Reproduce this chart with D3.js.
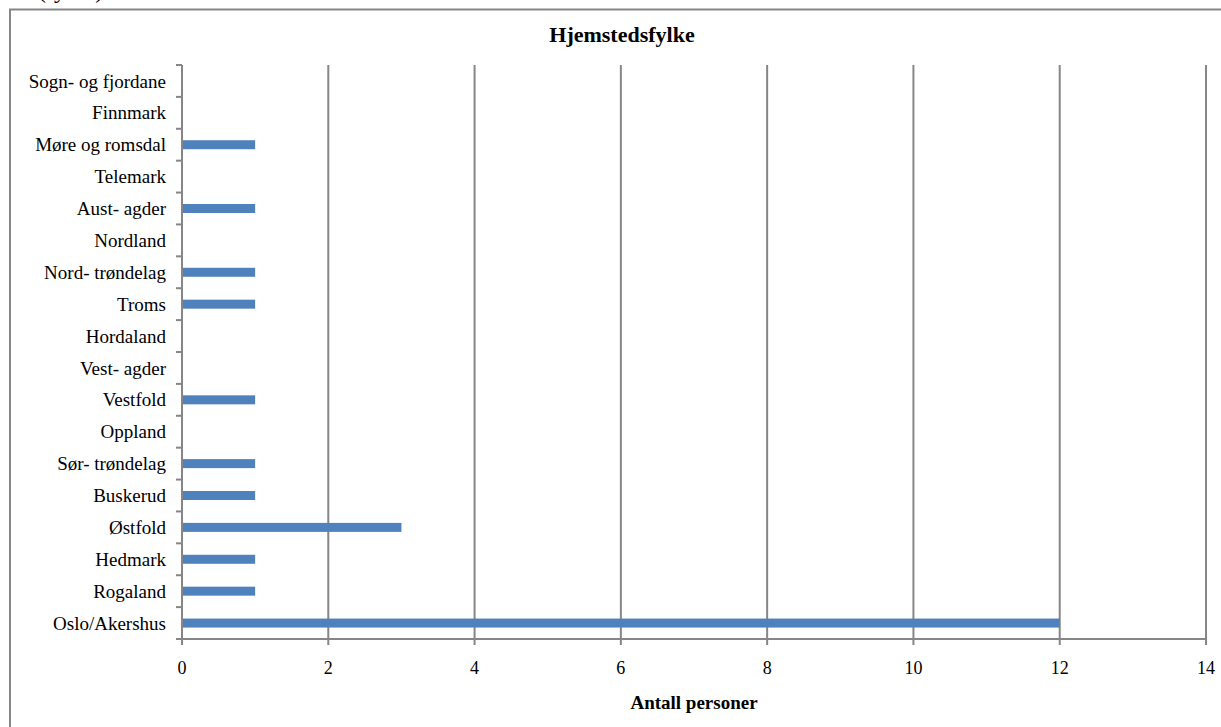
<!DOCTYPE html>
<html>
<head>
<meta charset="utf-8">
<script src="https://cdn.jsdelivr.net/npm/d3@7"></script>
<style>
  body { margin: 0; background: #fff; }
  svg { display: block; font-family: "Liberation Serif", "Times New Roman", serif; }
</style>
</head>
<body>
<div id="chart"></div>
<script>
// categories listed bottom -> top, as in the picture
const fylker = ["Oslo/Akershus", "Rogaland", "Hedmark", "Østfold", "Buskerud",
  "Sør- trøndelag", "Oppland", "Vestfold", "Vest- agder", "Hordaland", "Troms",
  "Nord- trøndelag", "Nordland", "Aust- agder", "Telemark", "Møre og romsdal",
  "Finnmark", "Sogn- og fjordane"];
const antall = [12, 1, 1, 3, 1, 1, 0, 1, 0, 0, 1, 1, 0, 1, 0, 1, 0, 0];
const xTicks = [0, 2, 4, 6, 8, 10, 12, 14];

const W = 1221, H = 727;
const margin = { top: 65, right: 15, bottom: 88, left: 182 },
      width = W - margin.left - margin.right,
      height = H - margin.top - margin.bottom;

const root = d3.select("#chart").append("svg")
  .attr("width", W)
  .attr("height", H);

// outer chart frame (runs off the right/bottom edge)
root.append("rect")
  .attr("x", 10).attr("y", 9.5)
  .attr("width", W + 20).attr("height", H + 20)
  .attr("fill", "none")
  .attr("stroke", "#868686")
  .attr("stroke-width", 2);

// clipped caption text above the frame
root.append("text")
  .attr("x", 38).attr("y", -2)
  .style("font-size", "24px")
  .text("(fylke)");

const svg = root.append("g")
  .attr("transform", `translate(${margin.left},${margin.top})`);

const x = d3.scaleLinear().domain([0, 14]).range([0, width]);
const y = d3.scaleBand().domain(fylker.slice().reverse()).range([0, height]);

// gridlines
svg.append("g")
  .selectAll("line")
  .data(xTicks.slice(1))
  .join("line")
  .attr("x1", d => x(d)).attr("x2", d => x(d))
  .attr("y1", 0).attr("y2", height)
  .attr("stroke", "#868686")
  .attr("stroke-width", 2);

// bars
svg.append("g")
  .selectAll("rect")
  .data(fylker.map((f, i) => ({ f, v: antall[i] })).filter(d => d.v > 0))
  .join("rect")
  .attr("x", x(0))
  .attr("y", d => y(d.f) + y.bandwidth() / 2 - 4.5)
  .attr("width", d => x(d.v) - x(0))
  .attr("height", 9)
  .attr("fill", "#4f81bd");

// y axis: line, ticks at category boundaries, labels
const yAxis = svg.append("g");
yAxis.append("line")
  .attr("x1", 0).attr("x2", 0)
  .attr("y1", 0).attr("y2", height)
  .attr("stroke", "#868686").attr("stroke-width", 2);
yAxis.selectAll(".tk")
  .data(d3.range(fylker.length + 1))
  .join("line")
  .attr("x1", -6).attr("x2", 0)
  .attr("y1", i => i * y.step()).attr("y2", i => i * y.step())
  .attr("stroke", "#868686").attr("stroke-width", 2);
yAxis.selectAll("text")
  .data(fylker)
  .join("text")
  .attr("x", -16)
  .attr("y", d => y(d) + y.bandwidth() / 2)
  .attr("dy", "0.35em")
  .attr("text-anchor", "end")
  .style("font-size", "19px")
  .text(d => d);

// x axis
const xAxis = svg.append("g").attr("transform", `translate(0,${height})`);
xAxis.append("line")
  .attr("x1", 0).attr("x2", width)
  .attr("stroke", "#868686").attr("stroke-width", 2);
xAxis.selectAll(".tk")
  .data(xTicks)
  .join("line")
  .attr("x1", d => x(d)).attr("x2", d => x(d))
  .attr("y1", 0).attr("y2", 6)
  .attr("stroke", "#868686").attr("stroke-width", 2);
xAxis.selectAll("text")
  .data(xTicks)
  .join("text")
  .attr("x", d => x(d))
  .attr("y", 35)
  .attr("text-anchor", "middle")
  .style("font-size", "18px")
  .text(d => d);

// axis title
svg.append("text")
  .attr("x", width / 2)
  .attr("y", height + 70)
  .attr("text-anchor", "middle")
  .style("font-size", "19px")
  .style("font-weight", "bold")
  .text("Antall personer");

// chart title
root.append("text")
  .attr("x", 622)
  .attr("y", 42)
  .attr("text-anchor", "middle")
  .style("font-size", "22px")
  .style("font-weight", "bold")
  .text("Hjemstedsfylke");
</script>
</body>
</html>
